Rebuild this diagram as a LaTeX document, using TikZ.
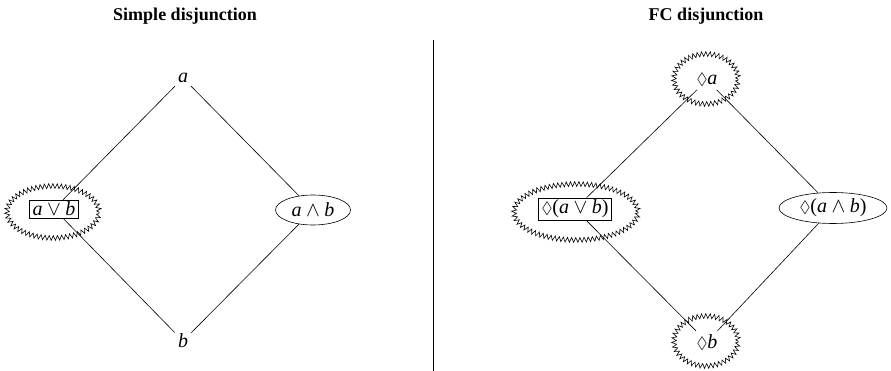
\documentclass[tikz,border=0pt]{standalone}
\usepackage{amssymb}
\usepackage{graphicx}
\usepackage{fontspec}
\setmainfont{Liberation Serif}
\usetikzlibrary{decorations.pathmorphing,shapes.geometric}
\newcommand{\pos}{\scalebox{0.82}{$\Diamond$}}
\begin{document}
\begin{tikzpicture}[x=1pt,y=-1pt,
  every path/.style={line width=0.6pt},
  title/.style={font=\fontsize{18}{20}\selectfont\bfseries},
  lbl/.style={font=\fontsize{20}{22}\selectfont, inner sep=3pt},
  boxed/.style={lbl, draw, inner xsep=3pt, inner ysep=2pt},
  oval/.style={lbl, draw, ellipse, inner sep=0pt},
  zz/.style={decorate, decoration={zigzag, segment length=4.2pt, amplitude=2.4pt}}]
\useasboundingbox (0,0) rectangle (891,371);
% titles
\node[title] (t1) at (185,16) {Simple disjunction};
\node[title] (t2) at (706,16) {FC disjunction};
% divider
\coordinate (d1) at (433,40);
\coordinate (d2) at (433,371);
\draw (d1) -- (d2);
% left panel
\node[lbl] (a) at (183,78) {\textit{a}};
\node[lbl] (b) at (183,341) {\textit{b}};
\node[boxed] (avb) at (54,209) {\textit{a}\:$\vee$\:\textit{b}};
\draw[zz] (53,212) ellipse (46pt and 26pt);
\node[oval, minimum width=75pt, minimum height=30pt] (awb) at (313,210) {\textit{a}\:$\wedge$\:\textit{b}};
\draw (a) -- (avb);
\draw (avb) -- (b);
\draw (a) -- (awb);
\draw (awb) -- (b);
% right panel
\node[lbl] (da) at (707,80) {\pos\textit{a}};
\draw[zz] (706,79) ellipse (32pt and 25pt);
\node[lbl] (db) at (707,342) {\pos\textit{b}};
\draw[zz] (706,341) ellipse (32pt and 25pt);
\node[boxed] (davb) at (575,209) {\pos(\textit{a}\:$\vee$\:\textit{b})};
\draw[zz] (576,212) ellipse (62pt and 28pt);
\node[oval, minimum width=108pt, minimum height=31pt] (dawb) at (833,208) {\pos(\textit{a}\:$\wedge$\:\textit{b})};
\draw (da) -- (davb);
\draw (davb) -- (db);
\draw (da) -- (dawb);
\draw (dawb) -- (db);
\end{tikzpicture}
\end{document}
